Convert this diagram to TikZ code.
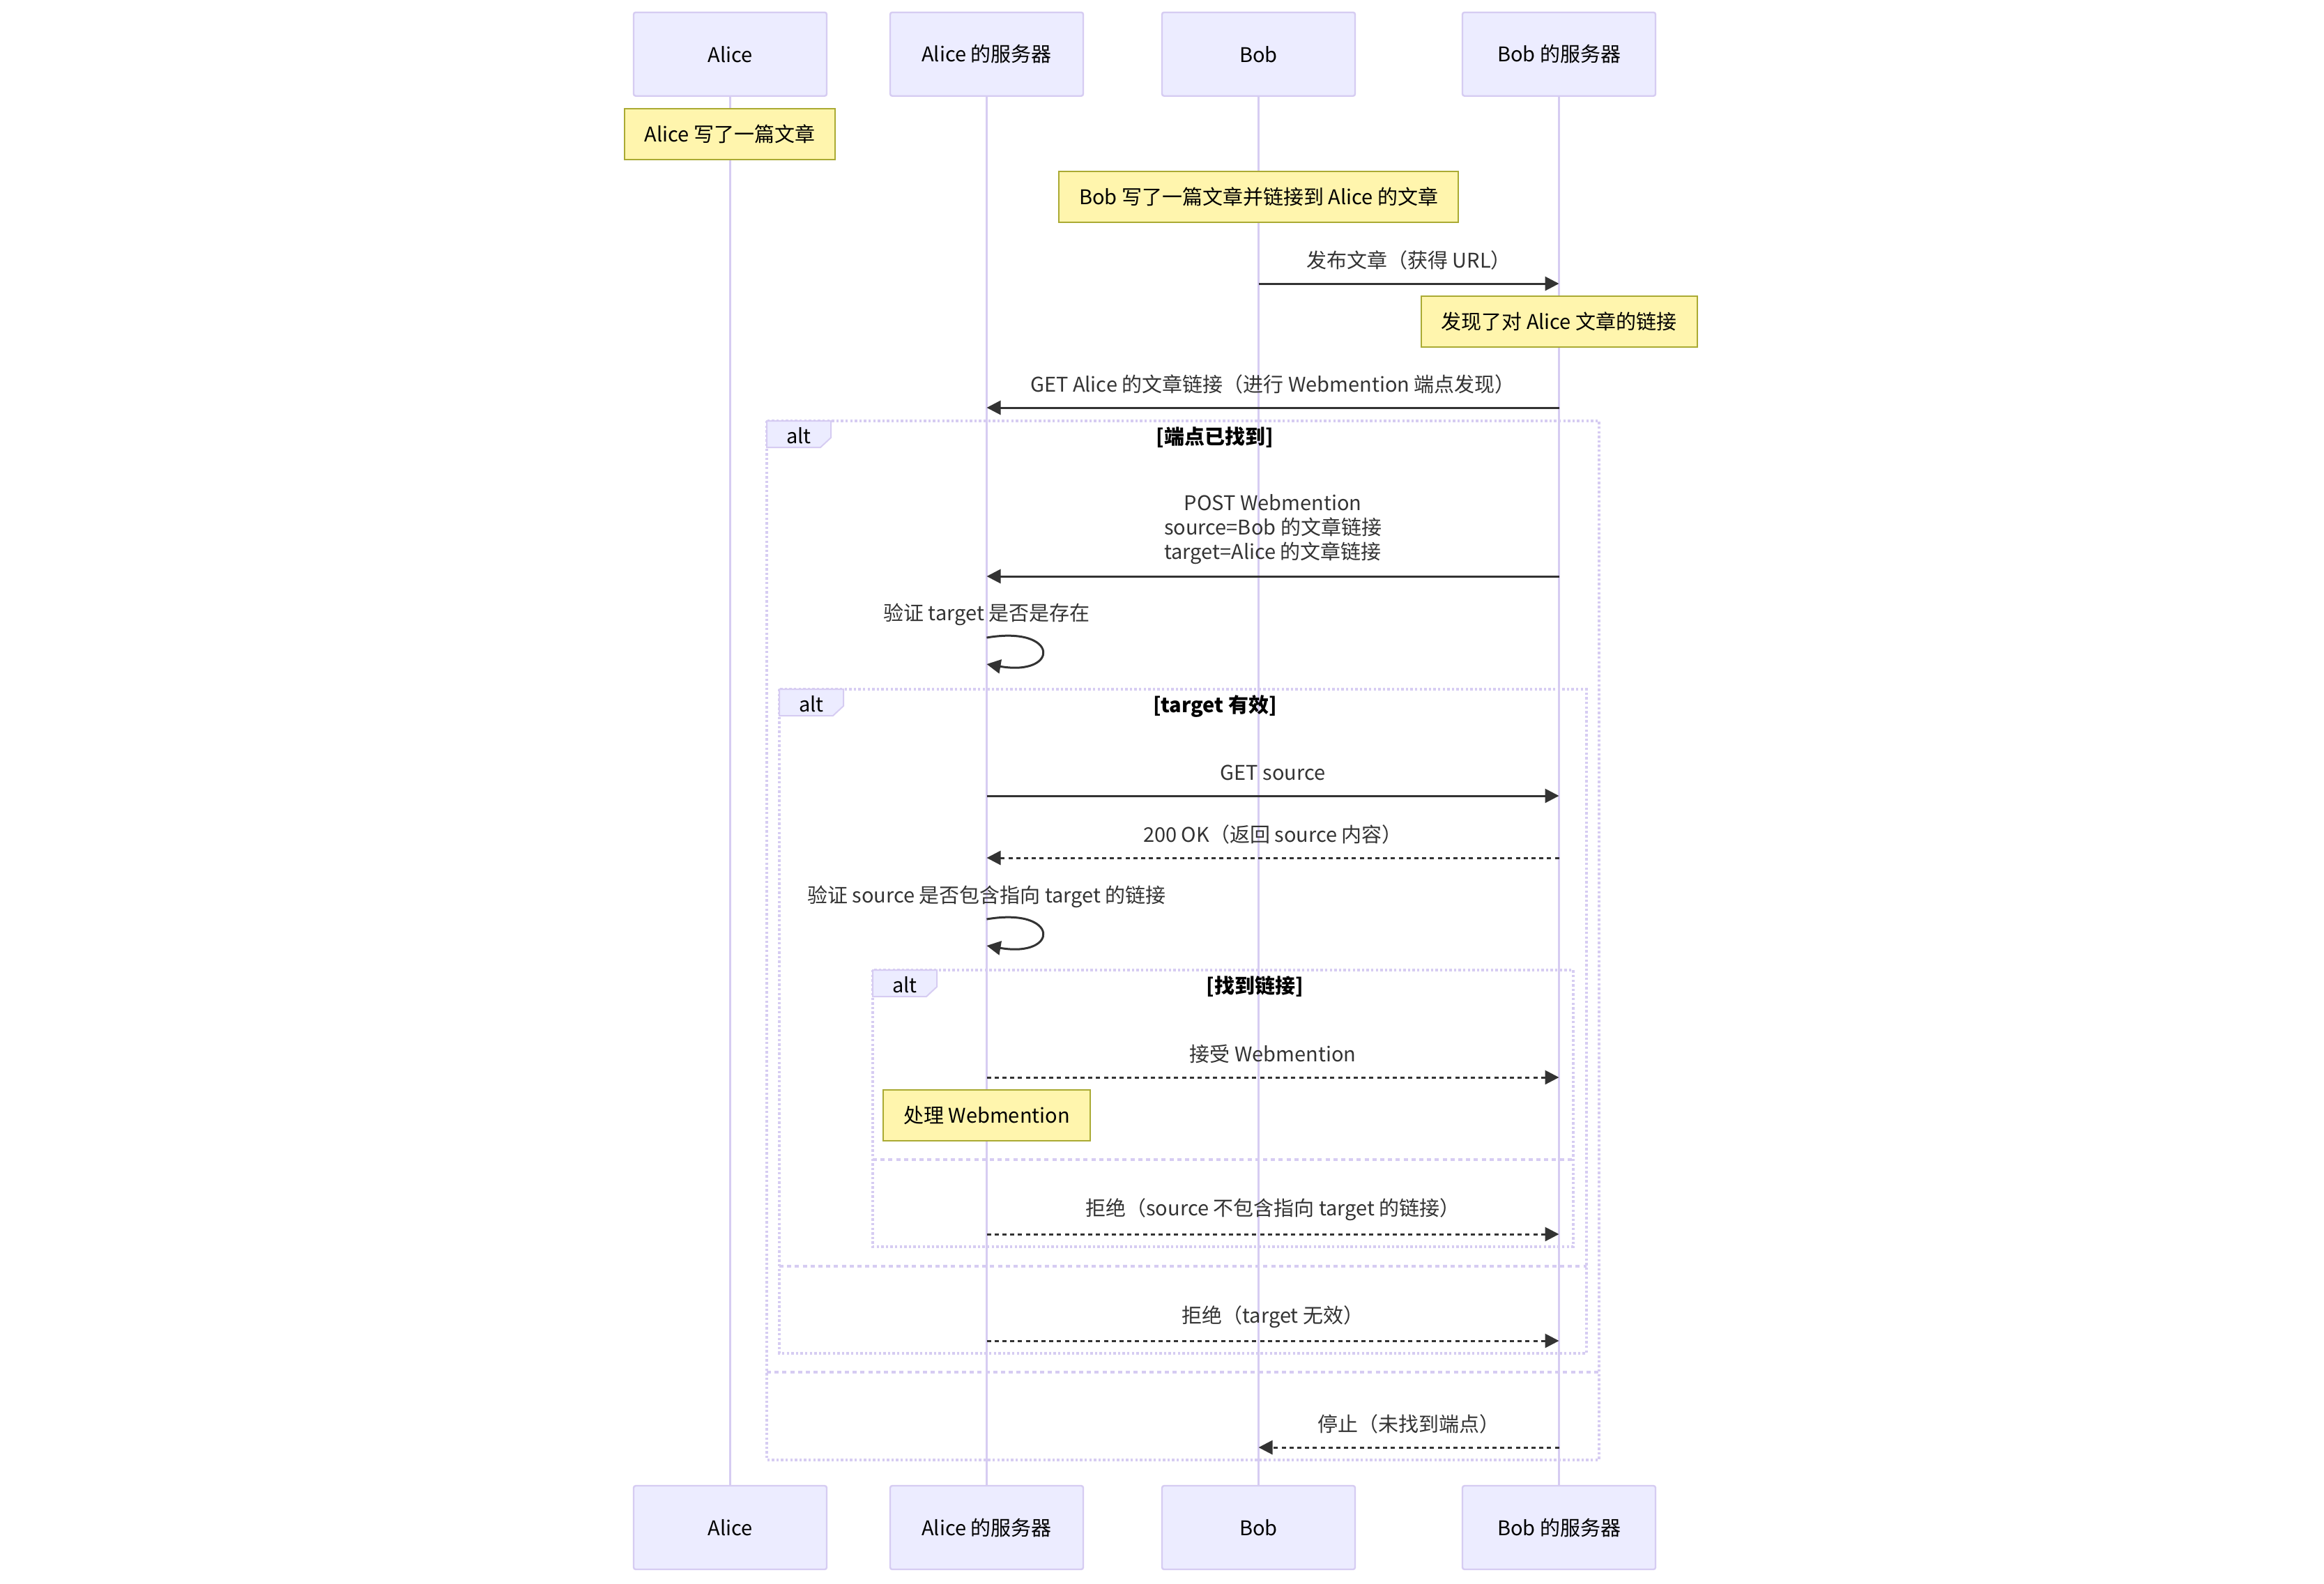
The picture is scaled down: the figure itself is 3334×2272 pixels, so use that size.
\documentclass[tikz,border=0pt]{standalone}
\usepackage{fontspec}
\setmainfont{Noto Sans CJK SC}
\usetikzlibrary{arrows.meta}
\definecolor{actorbg}{HTML}{ECECFF}
\definecolor{lavender}{HTML}{D6CCF2}
\definecolor{notebg}{HTML}{FFF5AD}
\definecolor{noteline}{HTML}{AAAA33}
\definecolor{ink}{HTML}{333333}

\begin{document}
\begin{tikzpicture}[x=0.5pt, y=-0.5pt, font=\fontsize{14.5}{17.5}\selectfont,
    actor/.style = {draw=lavender, line width=1.2pt, fill=actorbg, rounded corners=1.5pt, minimum width=138.5pt, minimum height=60pt},
    life/.style = {draw=lavender, line width=1.4pt},
    note/.style = {draw=noteline, line width=1pt, fill=notebg, minimum height=36.5pt, inner xsep=14.5pt},
    msg/.style = {draw=ink, line width=1.5pt, -{Triangle[length=10pt, width=10pt]}},
    reply/.style = {msg, dash pattern=on 3pt off 2.6pt},
    frame/.style = {draw=lavender, line width=1.6pt, dash pattern=on 1.7pt off 1.6pt},
    split/.style = {draw=lavender, line width=1.6pt, dash pattern=on 3pt off 2.6pt},
    tab/.style = {draw=lavender, line width=1pt, fill=actorbg},
    lbl/.style = {text=ink}]
    \fill[white] (0,0) rectangle (3334,2272);
    \useasboundingbox (0,0) rectangle (3334,2272);
    % participants, top and bottom
    \node[actor] (alice) at (1047.5,77.7) {Alice};
    \node[actor] (aserver) at (1415.5,77.7) {Alice 的服务器};
    \node[actor] (bob) at (1805.5,77.7) {Bob};
    \node[actor] (bserver) at (2236.5,77.7) {Bob 的服务器};
    \node[actor] (alice2) at (1047.5,2192) {Alice};
    \node[actor] (aserver2) at (1415.5,2192) {Alice 的服务器};
    \node[actor] (bob2) at (1805.5,2192) {Bob};
    \node[actor] (bserver2) at (2236.5,2192) {Bob 的服务器};
    \foreach \p in {alice, aserver, bob, bserver}
        \draw[life] (\p.south) -- (\p2.north);
    % alt frames
    \foreach \fl/\ft/\fr/\fb/\fs/\fc in {1100/604/2294/2095/1969/端点已找到, 1118/989/2276/1942/1817/target 有效, 1252/1392/2257/1789/1664/找到链接} {
        \draw[frame] (\fl,\ft) rectangle (\fr,\fb);
        \draw[split] (\fl,\fs) -- (\fr,\fs);
        \draw[tab] (\fl,\ft) -- ++(92,0) -- ++(0,24) -- ++(-15,14) -- ++(-77,0) -- cycle;
        \node (alt\ft) at ({\fl+46},{\ft+21}) {alt};
        \node (cond\ft) at ({(\fl+92+\fr)/2},{\ft+24}) {\bfseries[\fc]};
    }
    % notes
    \node[note] (n1) at (1047,192.5) {Alice 写了一篇文章};
    \node[note] (n2) at (1805.5,282.5) {Bob 写了一篇文章并链接到 Alice 的文章};
    \node[note] (n3) at (2236.5,461) {发现了对 Alice 文章的链接};
    \node[note] (n4) at (1415.5,1600) {处理 Webmention};
    % messages
    \draw[msg] (bob |- 0,407) -- node[lbl, yshift=17pt] (m1) {发布文章（获得 URL）} (bserver |- 0,407);
    \draw[msg] (bserver |- 0,585) -- node[lbl, yshift=17pt] (m2) {GET Alice 的文章链接（进行 Webmention 端点发现）} (aserver |- 0,585);
    \draw[msg] (bserver |- 0,827) -- node[lbl, align=center, yshift=33.5pt] (m3) {POST Webmention\\source=Bob 的文章链接\\target=Alice 的文章链接} (aserver |- 0,827);
    \node[lbl] (m4) at (aserver |- 0,882) {验证 target 是否是存在};
    \draw[msg] (aserver |- 0,915) .. controls +(105,-18) and +(105,18) .. (aserver |- 0,953);
    \draw[msg] (aserver |- 0,1142) -- node[lbl, yshift=16.5pt] (m5) {GET source} (bserver |- 0,1142);
    \draw[reply] (bserver |- 0,1231) -- node[lbl, yshift=17pt] (m6) {200 OK（返回 source 内容）} (aserver |- 0,1231);
    \node[lbl] (m7) at (aserver |- 0,1287) {验证 source 是否包含指向 target 的链接};
    \draw[msg] (aserver |- 0,1319) .. controls +(105,-18) and +(105,18) .. (aserver |- 0,1357);
    \draw[reply] (aserver |- 0,1546) -- node[lbl, yshift=17pt] (m8) {接受 Webmention} (bserver |- 0,1546);
    \draw[reply] (aserver |- 0,1771) -- node[lbl, yshift=17.5pt] (m9) {拒绝（source 不包含指向 target 的链接）} (bserver |- 0,1771);
    \draw[reply] (aserver |- 0,1924) -- node[lbl, yshift=17pt] (m10) {拒绝（target 无效）} (bserver |- 0,1924);
    \draw[reply] (bserver |- 0,2077) -- node[lbl, yshift=17pt] (m11) {停止（未找到端点）} (bob |- 0,2077);
\end{tikzpicture}
\end{document}
